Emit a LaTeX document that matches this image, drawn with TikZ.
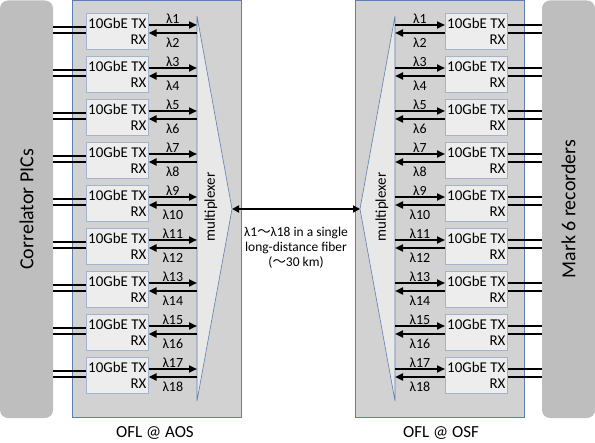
\documentclass[tikz,border=0pt]{standalone}
\usepackage{fontspec}
\setmainfont{Carlito}
\newfontfamily\cjk{Noto Sans CJK JP}
\usetikzlibrary{arrows.meta, positioning}
\definecolor{barGrey}{HTML}{BEBEBE}
\definecolor{oflGrey}{HTML}{D2D2D2}
\definecolor{nicGrey}{HTML}{EDEDED}
\definecolor{muxGrey}{HTML}{E8E8E8}
\definecolor{edgeBlue}{HTML}{5F7FB2}
\definecolor{nicEdge}{HTML}{A2B3CE}
\tikzset{
  sidebar/.style  = {fill=barGrey, rounded corners=8bp, rotate=90,
                     minimum width=417.5bp, minimum height=53bp, inner sep=0pt,
                     font=\fontsize{20}{22}\selectfont},
  oflbox/.style   = {fill=oflGrey, draw=edgeBlue, line width=0.6pt},
  nicbox/.style   = {fill=nicGrey, draw=nicEdge, line width=0.6pt,
                     minimum width=62bp, minimum height=36bp, inner sep=0pt,
                     align=right, font=\fontsize{15}{17}\selectfont},
  muxshape/.style = {fill=muxGrey, draw=edgeBlue, line width=0.6pt},
  muxlbl/.style   = {rotate=90, font=\fontsize{15}{17}\selectfont},
  lambda/.style   = {-{Triangle[length=8bp, width=7bp]}, line width=2.4bp, black},
  wire/.style     = {line width=1.7bp, black},
  fiber/.style    = {{Triangle[length=7bp, width=7bp]}-{Triangle[length=7bp, width=7bp]},
                     line width=1.7bp, black},
  lamup/.style    = {above, inner sep=0.5bp, font=\fontsize{14}{16}\selectfont},
  lamdown/.style  = {below, inner sep=3.5bp, font=\fontsize{14}{16}\selectfont},
  lbl/.style      = {font=\fontsize{17}{19}\selectfont},
  fibertxt/.style = {align=center, font=\fontsize{13.5}{15}\selectfont},
}
\begin{document}
\begin{tikzpicture}[x=1bp, y=-1bp]
  \useasboundingbox (0,0) rectangle (595,443);

  % equipment on both ends
  \node[sidebar] (pics)  at (26.5,209.25)  {Correlator PICs};
  \node[sidebar] (mark6) at (568.5,209.25) {Mark 6 recorders};

  % OFL racks
  \draw[oflbox] (72,0.5) rectangle (241,417);
  \draw[oflbox] (355,0.5) rectangle (524,417);
  \node[lbl] (aos) at (155,433) {OFL @ AOS};
  \node[lbl] (osf) at (441,433) {OFL @ OSF};

  % multiplexers
  \coordinate (muxL)  at (197,0);
  \coordinate (muxR)  at (395,0);
  \coordinate (apexL) at (232,209);
  \coordinate (apexR) at (360,209);
  \draw[muxshape] (muxL |- 0,16) -- (apexL) -- (muxL |- 0,401) -- cycle;
  \draw[muxshape] (muxR |- 0,16) -- (apexR) -- (muxR |- 0,401) -- cycle;
  \node[muxlbl] (muxtxtL) at (211,207) {multiplexer};
  \node[muxlbl] (muxtxtR) at (382,207) {multiplexer};

  % long-distance fiber
  \draw[fiber] (apexL) -- (apexR);
  \node[fibertxt] (fibernote) at (296,248)
    {λ1{\cjk ～}λ18 in a single\\long-distance fiber\\({\cjk ～}30 km)};

  % 10GbE channels
  \foreach \i in {0,...,8} {
    \pgfmathsetmacro{\rowy}{13+43*\i}
    \pgfmathtruncatemacro{\lo}{2*\i+1}
    \pgfmathtruncatemacro{\hi}{2*\i+2}
    \node[nicbox, anchor=north west] (nicL\i) at (86,\rowy)  {10GbE TX\\RX};
    \node[nicbox, anchor=north west] (nicR\i) at (445,\rowy) {10GbE TX\\RX};

    \draw[wire] (pics.south |- 0,\rowy+14) -- (nicL\i.west |- 0,\rowy+14);
    \draw[wire] (pics.south |- 0,\rowy+20) -- (nicL\i.west |- 0,\rowy+20);
    \draw[wire] (nicR\i.east |- 0,\rowy+12) -- (mark6.north |- 0,\rowy+12);
    \draw[wire] (nicR\i.east |- 0,\rowy+20) -- (mark6.north |- 0,\rowy+20);

    \draw[lambda] (nicL\i.east |- 0,\rowy+12) -- node[lamup] {λ\lo} (muxL |- 0,\rowy+12);
    \draw[lambda] (muxL |- 0,\rowy+20) -- node[lamdown] {λ\hi} (nicL\i.east |- 0,\rowy+20);
    \draw[lambda] (muxR |- 0,\rowy+12) -- node[lamup] {λ\lo} (nicR\i.west |- 0,\rowy+12);
    \draw[lambda] (nicR\i.west |- 0,\rowy+20) -- node[lamdown] {λ\hi} (muxR |- 0,\rowy+20);
  }
\end{tikzpicture}
\end{document}
